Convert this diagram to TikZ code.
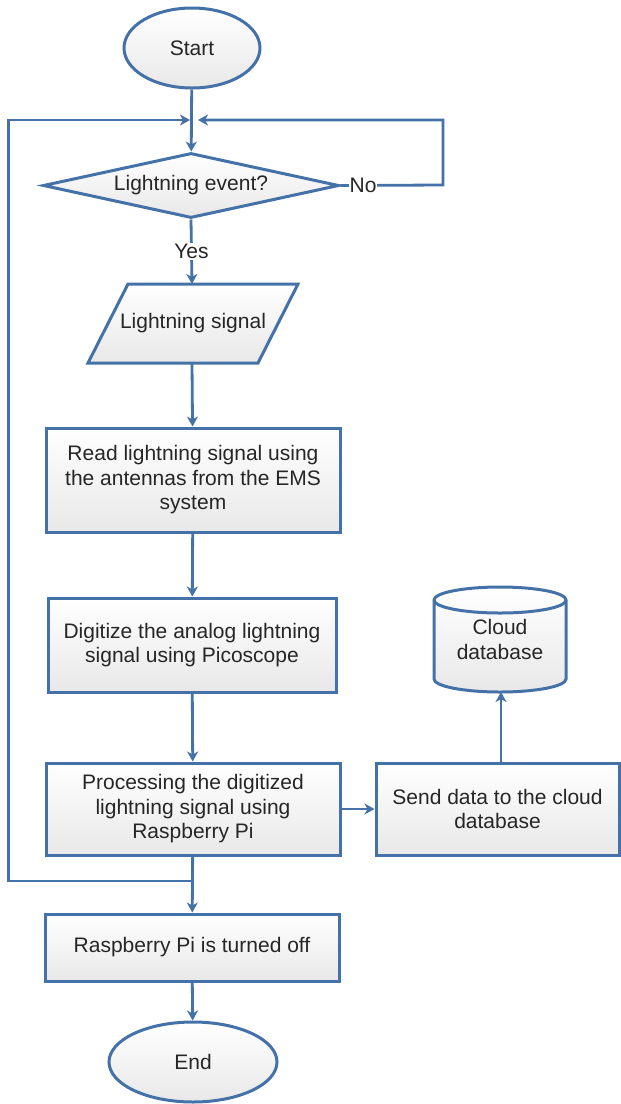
\documentclass[tikz,border=0pt]{standalone}
\usepackage{fontspec}
\setmainfont{Liberation Sans}
\usetikzlibrary{shapes.geometric,arrows.meta}
\definecolor{edgeblue}{RGB}{68,114,168}
\definecolor{shadebot}{RGB}{232,232,232}
\definecolor{txt}{RGB}{38,38,38}
\begin{document}
\begin{tikzpicture}[x=1pt,y=-1pt,
  txtfont/.style={text=txt,font=\fontsize{21}{24.5}\selectfont},
  shapebase/.style={draw=edgeblue,line width=3pt,top color=white,bottom color=shadebot,txtfont,align=center,inner sep=0pt},
  procbox/.style={shapebase,rectangle},
  terminal/.style={shapebase,ellipse},
  decision/.style={shapebase,diamond,aspect=4.55,inner sep=2pt},
  shadedpath/.style={draw=edgeblue,line width=3pt,top color=white,bottom color=shadebot},
  conn/.style={draw=edgeblue,line width=2.8pt,line join=miter},
  arr/.style={conn,-{Stealth[length=10pt,width=11pt,inset=3pt]}},
  lbl/.style={txtfont,fill=white,inner sep=1pt}
]
\useasboundingbox (0,0) rectangle (621,1104);

% nodes
\node[terminal,minimum width=136pt,minimum height=80pt] (start) at (192,48) {Start};
\node[decision,minimum width=296pt,minimum height=65pt] (dec) at (191,185.5) {Lightning event?};

\path[shadedpath] (88,363) -- (128,284) -- (298,284) -- (258,363) -- cycle;
\node[txtfont] (sig) at (193,323.5) {Lightning signal};
\coordinate (sigtop) at (192,284);
\coordinate (sigbot) at (192,363);

\node[procbox,minimum width=294pt,minimum height=104pt] (box1) at (193,480) {Read lightning signal using\\the antennas from the EMS\\system};
\node[procbox,minimum width=288pt,minimum height=94pt] (box2) at (192,645) {Digitize the analog lightning\\signal using Picoscope};
\node[procbox,minimum width=294pt,minimum height=92pt] (box3) at (193,809) {Processing the digitized\\lightning signal using\\Raspberry Pi};
\node[procbox,minimum width=243pt,minimum height=92pt] (send) at (497.5,809) {Send data to the cloud\\database};
\node[procbox,minimum width=294pt,minimum height=67pt] (box4) at (192,947.5) {Raspberry Pi is turned off};
\node[terminal,minimum width=168pt,minimum height=80pt] (end) at (193,1062) {End};

% cylinder
\path[shadedpath] (434,600) -- (434,679) arc[start angle=180,end angle=360,x radius=66pt,y radius=13pt]
  -- (566,600) arc[start angle=0,end angle=180,x radius=66pt,y radius=13pt] -- cycle;
\draw[edgeblue,line width=3pt] (434,600) arc[start angle=180,end angle=360,x radius=66pt,y radius=13pt];
\node[txtfont,align=center] (cloud) at (500,639.5) {Cloud\\database};
\coordinate (cylbot) at (501,692);

% junction coordinates
\coordinate (jL) at (190,120);
\coordinate (jR) at (198,120);
\coordinate (noR) at (443,185);
\coordinate (j2) at (192,881);
\coordinate (loopBL) at (8.7,881);
\coordinate (loopTL) at (8.7,120);

% connectors
\draw[arr] (start) -- (dec);
\draw[arr] (dec.east) -- node[lbl,pos=0.22] (no) {No} (noR) |- (jR);
\draw[arr] (dec.south) -- node[lbl] (yes) {Yes} (sigtop);
\draw[arr] (sigbot) -- (box1);
\draw[arr] (box1) -- (box2);
\draw[arr] (box2) -- (box3);
\draw[arr] (box3.east) -- (send.west);
\draw[arr] (cylbot |- send.north) -- (cylbot);
\draw[arr] (box3) -- (box4);
\draw[arr] (j2) -- (loopBL) -- (loopTL) -- (jL);
\draw[arr] (box4) -- (end);
\end{tikzpicture}
\end{document}
